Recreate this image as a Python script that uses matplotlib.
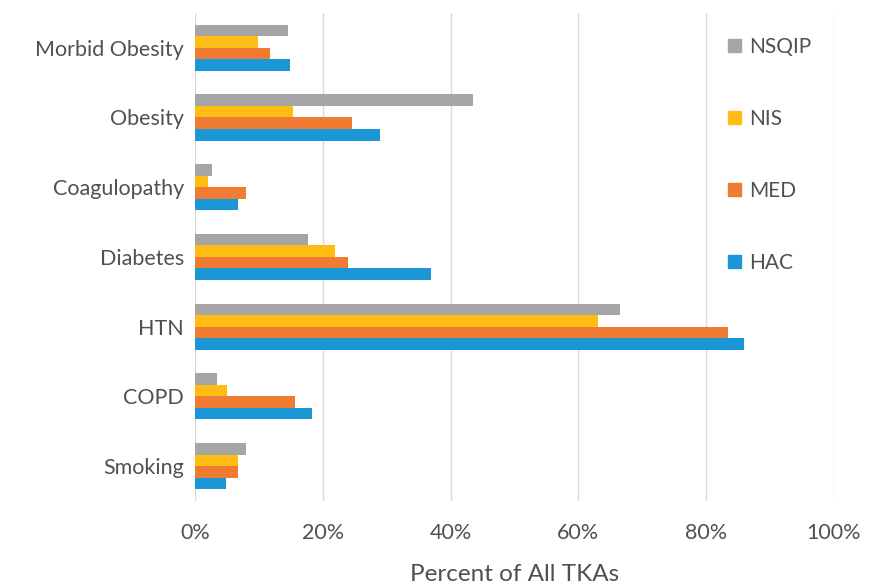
import numpy as np
import matplotlib.pyplot as plt
from matplotlib.patches import Patch

# comorbidity rates (% of all TKAs) per data source
categories = ["Smoking", "COPD", "HTN", "Diabetes", "Coagulopathy", "Obesity", "Morbid Obesity"]
hac = [4.8, 18.3, 85.9, 36.9, 6.7, 29.0, 14.8]
med = [6.8, 15.6, 83.4, 23.9, 8.0, 24.6, 11.8]
nis = [6.8, 5.0, 63.1, 21.9, 2.0, 15.3, 9.9]
nsqip = [8.0, 3.4, 66.5, 17.7, 2.6, 43.5, 14.6]
xticks = [0, 20, 40, 60, 80, 100]

series = [("HAC", hac, "#1b96d6"), ("MED", med, "#f07b32"),
          ("NIS", nis, "#ffbd14"), ("NSQIP", nsqip, "#a5a5a5")]

plt.rcParams["font.family"] = ["Lato", "DejaVu Sans"]
fig = plt.figure(figsize=(8.72, 5.86), dpi=100)
ax = fig.add_axes([0.2236, 0.145, 0.7327, 0.833])

y = np.arange(len(categories))
h = 0.165
for i, (name, vals, col) in enumerate(series):
    ax.barh(y + (i - 1.5) * h, vals, height=h, color=col, label=name, zorder=3)

ax.set_xlim(0, 100)
ax.set_ylim(-0.5, len(categories) - 0.5)
ax.set_xticks(xticks)
ax.set_xticklabels([f"{v}%" for v in xticks])
ax.set_yticks(y)
ax.set_yticklabels(categories)
ax.grid(axis="x", color="#d9d9d9", linewidth=1, zorder=0)
for s in ax.spines.values():
    s.set_visible(False)
ax.tick_params(length=0, labelsize=15.5, colors="#505050", pad=8)
ax.tick_params(axis="x", pad=16)
ax.set_xlabel("Percent of All TKAs", fontsize=17.5, color="#505050", labelpad=15)

handles = [Patch(color=c, label=n) for n, _, c in series][::-1]
ax.legend(handles=handles, loc="upper left", bbox_to_anchor=(0.805, 0.99),
          frameon=False, fontsize=15, labelspacing=2.5, handlelength=0.6,
          handleheight=0.6, handletextpad=0.4, labelcolor="#505050")

fig.savefig("out.png", dpi=100)
